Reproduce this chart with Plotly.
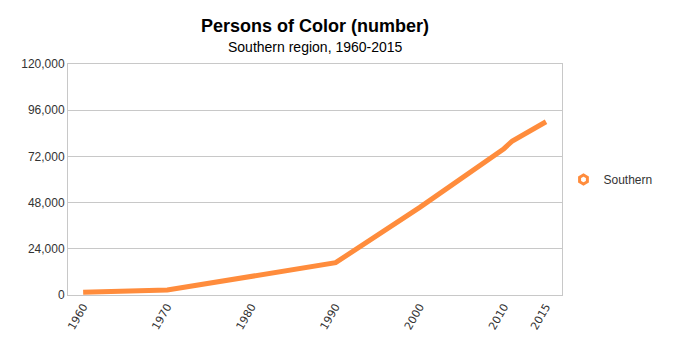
import plotly.graph_objects as go

years = [1960, 1970, 1990, 2000, 2010, 2011, 2015]
persons = [1400, 2600, 16800, 45500, 76000, 80000, 90000]
tick_years = [1960, 1970, 1980, 1990, 2000, 2010, 2015]
y_ticks = [0, 24000, 48000, 72000, 96000, 120000]
series_name = "Southern"
color = "#ff8c3c"
font = "Liberation Sans, Arial, sans-serif"

fig = go.Figure()
fig.add_trace(go.Scatter(x=years, y=persons, mode="lines", name=series_name,
                         line=dict(color=color, width=5), showlegend=False))
fig.add_trace(go.Scatter(x=[None], y=[None], mode="markers", name=series_name,
                         marker=dict(symbol="hexagon-open", size=9, color=color,
                                     line=dict(width=3, color=color))))

# The page body has an 8px margin; margins compensate for it.
fig.update_layout(
    width=680, height=360,
    margin=dict(l=60, r=126, t=56, b=73),
    paper_bgcolor="white", plot_bgcolor="white",
    font=dict(family=font, size=12, color="#333333"),
    showlegend=True,
    legend=dict(x=1.003, y=0.5, xanchor="left", yanchor="middle",
                font=dict(size=12, color="#333333"), itemwidth=30),
)
fig.add_annotation(text="<b>Persons of Color (number)</b>", xref="paper", yref="paper",
                   x=0.5, y=1.0, yshift=38, showarrow=False, yanchor="middle",
                   font=dict(size=18, color="#000000", family=font))
fig.add_annotation(text="Southern region, 1960-2015", xref="paper", yref="paper",
                   x=0.5, y=1.0, yshift=17, showarrow=False, yanchor="middle",
                   font=dict(size=14, color="#000000", family=font))

fig.update_xaxes(range=[1958.2, 2016.9], tickmode="array", tickvals=tick_years,
                 ticktext=[str(t) for t in tick_years], tickangle=-60,
                 showgrid=False, zeroline=False, showline=True, mirror=True,
                 linecolor="#c8c8c8", linewidth=1, ticks="",
                 tickfont=dict(size=11, color="#333333", family="DejaVu Sans"))
fig.update_yaxes(range=[0, 120000], tickmode="array", tickvals=y_ticks,
                 tickformat=",d", showgrid=True, gridcolor="#c8c8c8", gridwidth=1,
                 zeroline=False, showline=True, mirror=True, linecolor="#c8c8c8",
                 linewidth=1, ticks="", tickfont=dict(size=12, color="#333333"))

fig.write_html("out.html")
